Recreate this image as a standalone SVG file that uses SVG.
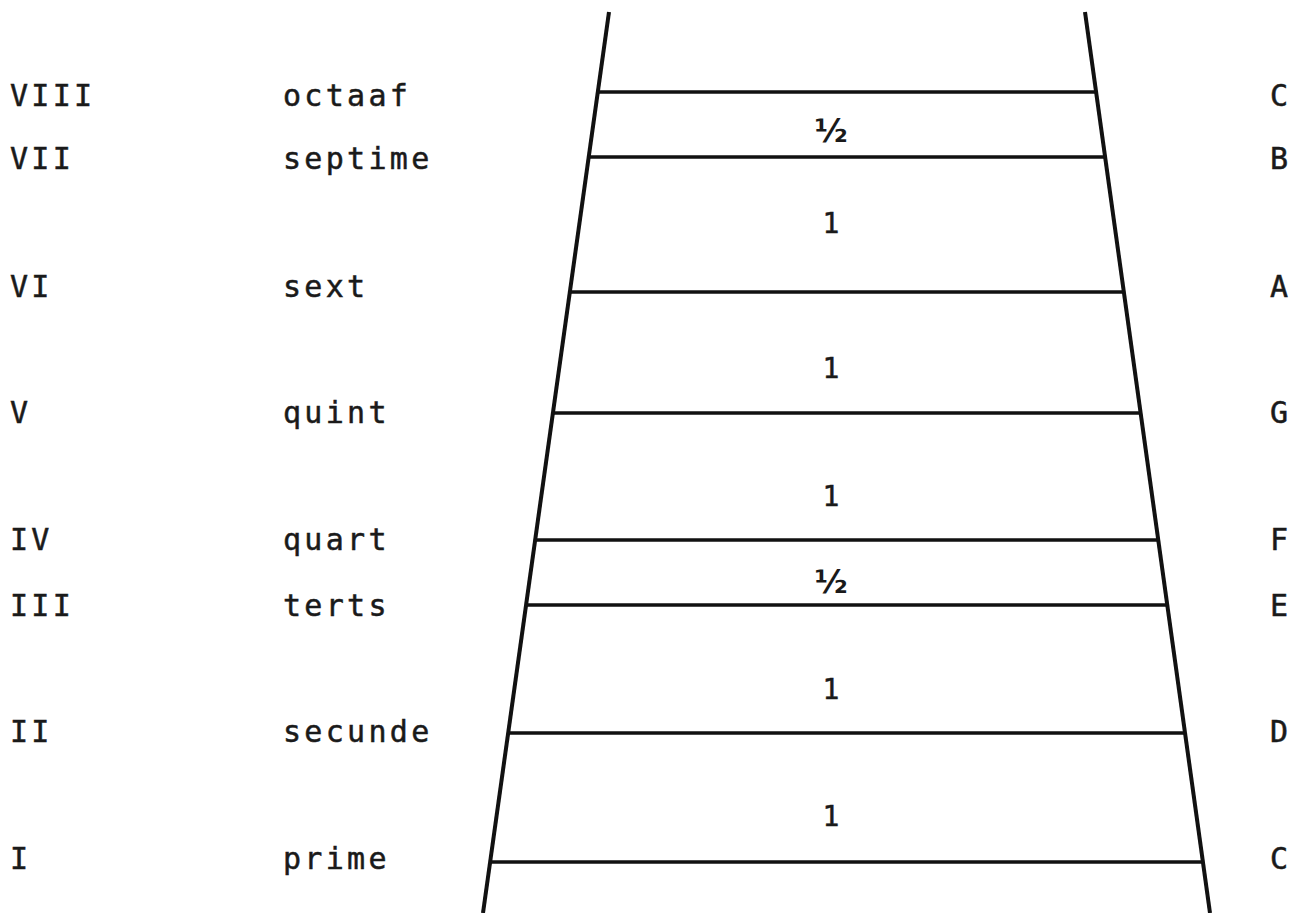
<svg xmlns="http://www.w3.org/2000/svg" width="1301" height="913" viewBox="0 0 1301 913">
<style>
.t{font-family:"DejaVu Sans Mono","Liberation Mono",monospace;font-size:30px;letter-spacing:3.3px;fill:#1a1a1a;stroke:#1a1a1a;stroke-width:0.5}
.n{font-family:"DejaVu Sans Mono","Liberation Mono",monospace;font-size:28px;fill:#1a1a1a;stroke:#1a1a1a;stroke-width:0.5;text-anchor:middle}
.h{font-family:"DejaVu Sans","Liberation Sans",sans-serif;font-size:32px;font-weight:bold;fill:#1a1a1a;text-anchor:middle}
.side{stroke:#111;stroke-width:4;fill:none}
.rung{stroke:#111;stroke-width:3.5;fill:none}
</style>
<rect width="1301" height="913" fill="#fff"/>
<g id="ladder">
<line class="side" x1="609" y1="12" x2="483" y2="913"/>
<line class="side" x1="1085" y1="12" x2="1210" y2="913"/>
<line class="rung" x1="598" y1="92" x2="1096" y2="92"/>
<line class="rung" x1="589" y1="157" x2="1105" y2="157"/>
<line class="rung" x1="570" y1="292" x2="1124" y2="292"/>
<line class="rung" x1="553" y1="413" x2="1140" y2="413"/>
<line class="rung" x1="535" y1="540" x2="1158" y2="540"/>
<line class="rung" x1="526" y1="605" x2="1167" y2="605"/>
<line class="rung" x1="508" y1="733" x2="1185" y2="733"/>
<line class="rung" x1="490" y1="862" x2="1203" y2="862"/>
</g>
<g id="steps">
<text class="h" x="831" y="142">½</text>
<text class="n" x="831" y="233">1</text>
<text class="n" x="831" y="378">1</text>
<text class="n" x="831" y="506">1</text>
<text class="h" x="831" y="593">½</text>
<text class="n" x="831" y="699">1</text>
<text class="n" x="831" y="826">1</text>
</g>
<g id="row8"><text class="t" x="10" y="106">VIII</text><text class="t" x="283" y="106">octaaf</text><text class="t" x="1270" y="106">C</text></g>
<g id="row7"><text class="t" x="10" y="169">VII</text><text class="t" x="283" y="169">septime</text><text class="t" x="1270" y="169">B</text></g>
<g id="row6"><text class="t" x="10" y="297">VI</text><text class="t" x="283" y="297">sext</text><text class="t" x="1270" y="297">A</text></g>
<g id="row5"><text class="t" x="10" y="423">V</text><text class="t" x="283" y="423">quint</text><text class="t" x="1270" y="423">G</text></g>
<g id="row4"><text class="t" x="10" y="550">IV</text><text class="t" x="283" y="550">quart</text><text class="t" x="1270" y="550">F</text></g>
<g id="row3"><text class="t" x="10" y="616">III</text><text class="t" x="283" y="616">terts</text><text class="t" x="1270" y="616">E</text></g>
<g id="row2"><text class="t" x="10" y="742">II</text><text class="t" x="283" y="742">secunde</text><text class="t" x="1270" y="742">D</text></g>
<g id="row1"><text class="t" x="10" y="869">I</text><text class="t" x="283" y="869">prime</text><text class="t" x="1270" y="869">C</text></g>
</svg>
